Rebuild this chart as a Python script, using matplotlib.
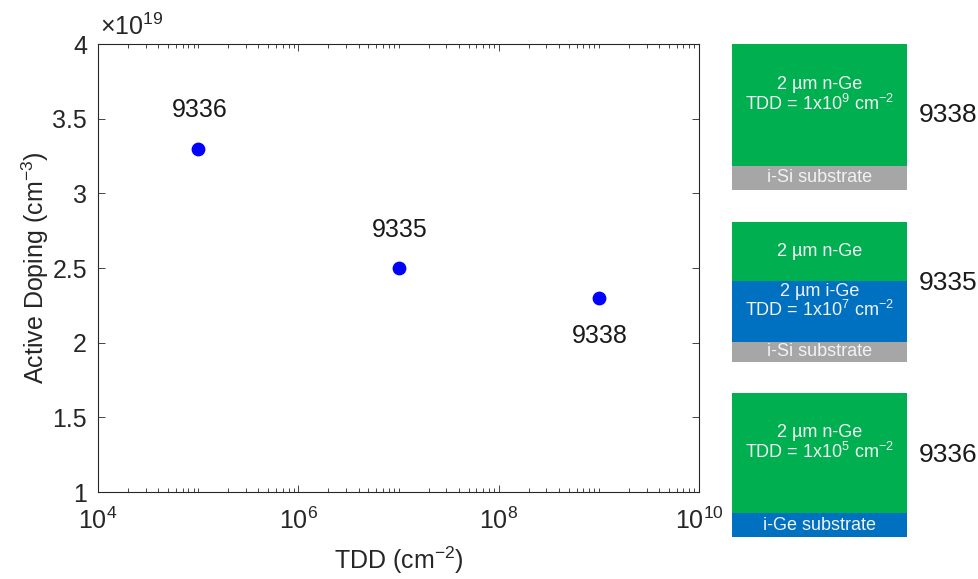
import matplotlib

matplotlib.use("Agg")

import matplotlib.pyplot as plt
from matplotlib.patches import Rectangle
from matplotlib.ticker import FixedLocator, FuncFormatter, LogLocator, NullFormatter
import numpy as np

plt.rcParams["font.family"] = ["Liberation Sans", "DejaVu Sans"]
plt.rcParams["mathtext.fontset"] = "custom"
plt.rcParams["mathtext.rm"] = "Liberation Sans"
plt.rcParams["mathtext.it"] = "Liberation Sans:italic"
plt.rcParams["mathtext.bf"] = "Liberation Sans:bold"

# measured samples
sample_ids = ["9336", "9335", "9338"]
tdd = [1e5, 1e7, 1e9]
active_doping = [3.3e19, 2.5e19, 2.3e19]
label_above = [True, True, False]

# layer stacks drawn beside the plot, top to bottom
GREEN = "#00B050"
BLUE = "#0070C0"
GREY = "#A6A6A6"
stacks = [
    ("9338", [("2 µm n-Ge\nTDD = 1x10$^{9}$ cm$^{-2}$", GREEN, 122),
              ("i-Si substrate", GREY, 24)]),
    ("9335", [("2 µm n-Ge", GREEN, 59),
              ("2 µm i-Ge\nTDD = 1x10$^{7}$ cm$^{-2}$", BLUE, 61),
              ("i-Si substrate", GREY, 20)]),
    ("9336", [("2 µm n-Ge\nTDD = 1x10$^{5}$ cm$^{-2}$", GREEN, 120),
              ("i-Ge substrate", BLUE, 24)]),
]
stack_tops = [44, 222, 393]
stack_label_y = [115, 283, 455]

W, H = 979, 579
INK = "#262626"
fig = plt.figure(figsize=(W / 100, H / 100), dpi=100)
ax = fig.add_axes([98 / W, 1 - 492 / H, 601 / W, 448 / H])

ax.scatter(tdd, active_doping, s=80, color="#0000FF", zorder=3)
for sid, x, y, above in zip(sample_ids, tdd, active_doping, label_above):
    ax.annotate(sid, (x, y), textcoords="offset points",
                xytext=(1, 19 if above else -19), ha="center",
                va="bottom" if above else "top", fontsize=18, color="#1a1a1a")

ax.set_xscale("log")
ax.set_xlim(1e4, 1e10)
ax.set_ylim(1e19, 4e19)
ax.xaxis.set_major_locator(FixedLocator([1e4, 1e6, 1e8, 1e10]))
ax.xaxis.set_minor_locator(LogLocator(base=10, subs=np.arange(1, 10), numticks=20))
ax.xaxis.set_minor_formatter(NullFormatter())
ax.yaxis.set_major_locator(FixedLocator(np.arange(1e19, 4.01e19, 0.5e19)))
ax.yaxis.set_major_formatter(FuncFormatter(lambda v, _: f"{v / 1e19:g}"))

ax.tick_params(which="both", direction="in", top=True, right=True,
               color=INK, width=0.6, labelsize=18, labelcolor=INK)
ax.tick_params(which="major", length=5)
ax.tick_params(which="minor", length=3)
ax.tick_params(axis="x", which="major", pad=11)
ax.tick_params(axis="y", which="major", pad=8)
for spine in ax.spines.values():
    spine.set_color(INK)
    spine.set_linewidth(0.8)

ax.set_xlabel("TDD (cm$^{-2}$)", fontsize=18, color=INK, labelpad=8)
ax.set_ylabel("Active Doping (cm$^{-3}$)", fontsize=18, color=INK, labelpad=1)
ax.text(0.003, 1.01, r"$\times10^{19}$", transform=ax.transAxes, ha="left",
        va="bottom", fontsize=18, color=INK)

# schematic layer stacks in pixel coordinates
overlay = fig.add_axes([0, 0, 1, 1], zorder=-1)
overlay.set_xlim(0, W)
overlay.set_ylim(H, 0)
overlay.axis("off")
box_left, box_width = 732, 175
for (sid, layers), top, label_y in zip(stacks, stack_tops, stack_label_y):
    y = top
    for text, color, height in layers:
        overlay.add_patch(Rectangle((box_left, y), box_width, height,
                                    facecolor=color, edgecolor="none"))
        text_y = y + height / 2 - (10 if "\n" in text else 0)
        overlay.text(box_left + box_width / 2, text_y, text, ha="center",
                     va="center", color="#F2F2F2", fontsize=13, linespacing=1.0)
        y += height
    overlay.text(948, label_y, sid, ha="center", va="center", fontsize=19,
                 color="#1a1a1a")

fig.savefig("out.png", dpi=100)
